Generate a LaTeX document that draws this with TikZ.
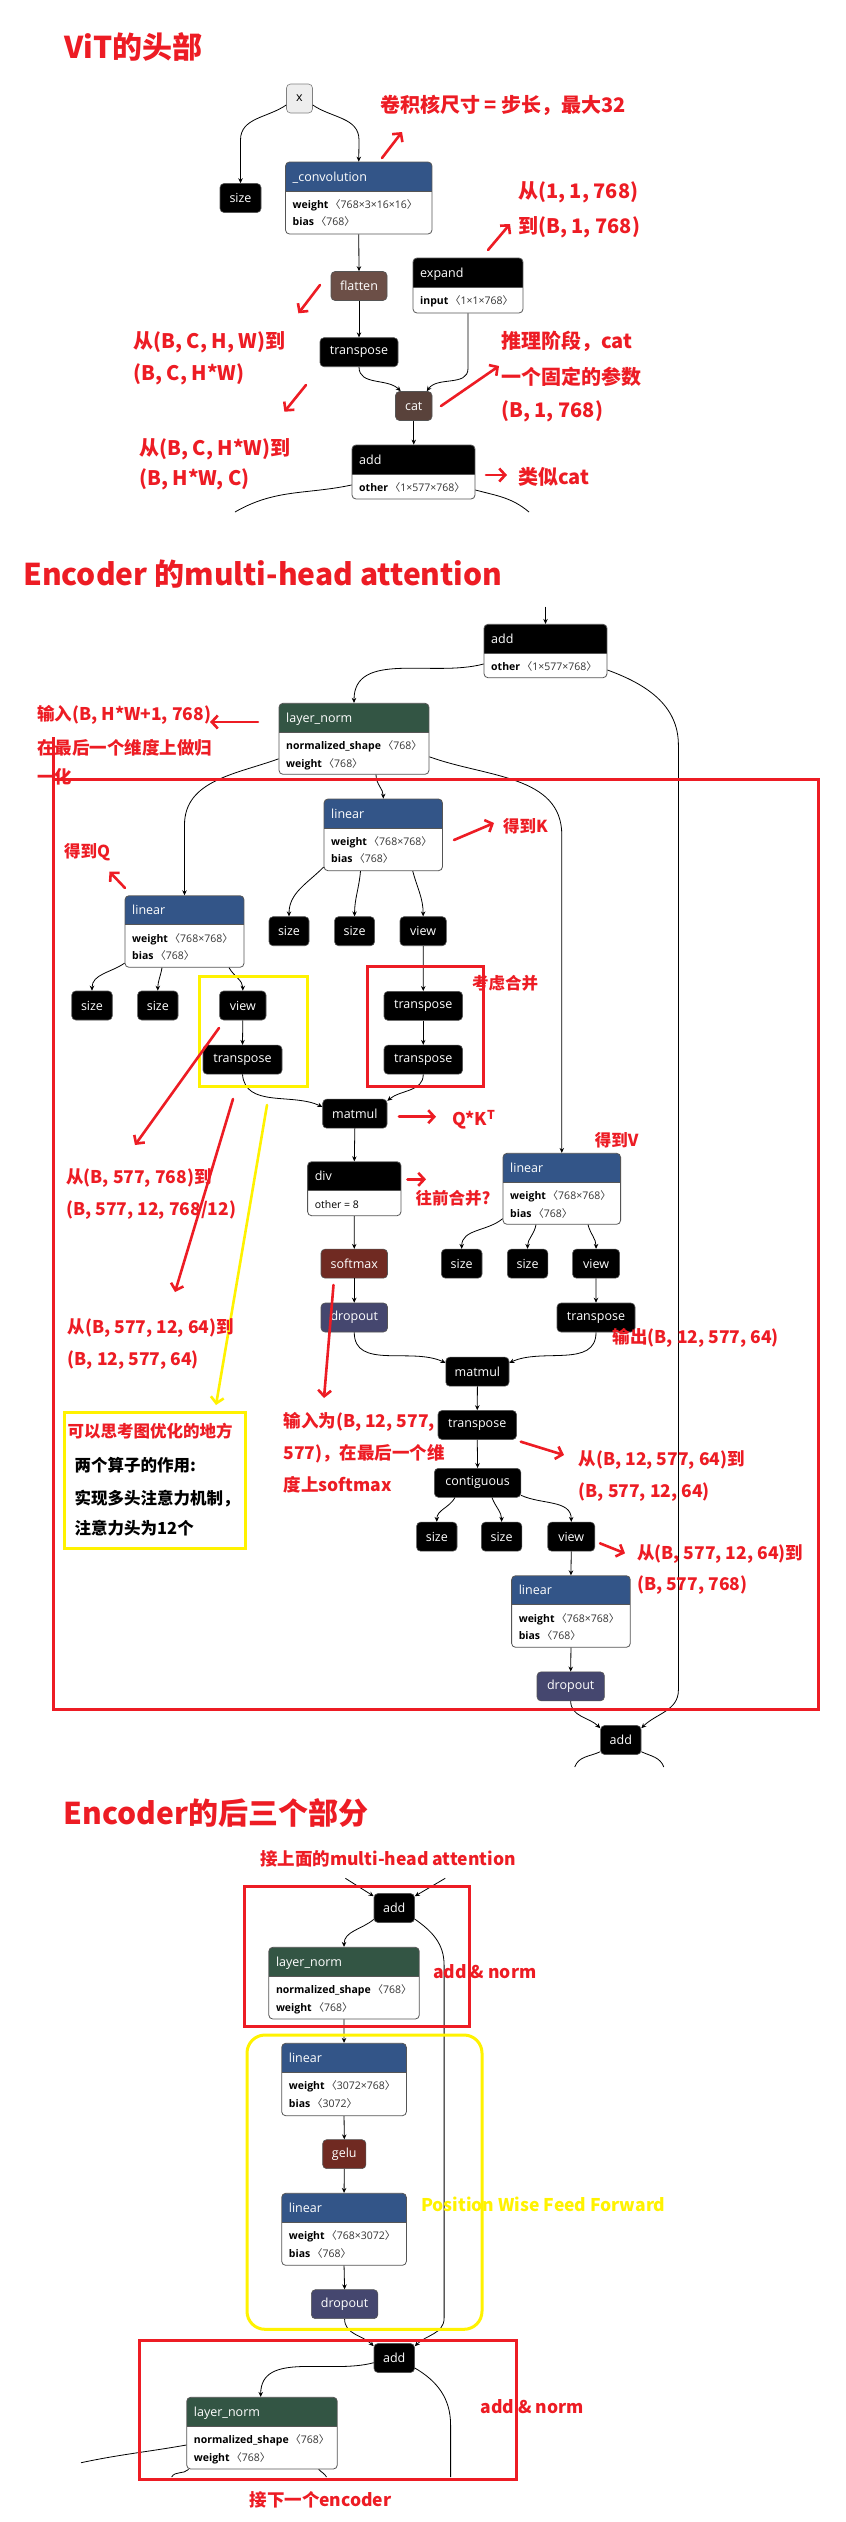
\documentclass[tikz,border=0pt]{standalone}
\usepackage{fontspec}
\usetikzlibrary{arrows.meta,fit}
\newfontfamily\cjk{Noto Sans CJK SC}
\newfontfamily\opsans{Open Sans}
\definecolor{annred}{HTML}{ED1C24}
\definecolor{annyel}{HTML}{FFF200}
\definecolor{layerblue}{HTML}{335588}
\definecolor{normgreen}{HTML}{335544}
\definecolor{actred}{HTML}{702A22}
\definecolor{dropcol}{HTML}{45476F}
\definecolor{shapecol}{HTML}{6C4F47}
\definecolor{tensorcol}{HTML}{59423B}
\definecolor{dimgray}{HTML}{333333}
\definecolor{framegray}{HTML}{555555}
\definecolor{inputgray}{HTML}{EEEEEE}
\newcommand{\fOp}{\opsans\fontsize{12.5}{14}\selectfont}
\newcommand{\fBody}{\opsans\fontsize{10.5}{12}\selectfont}
\newcommand{\fTitle}{\cjk\bfseries\fontsize{30}{34}\selectfont}
\newcommand{\fBig}{\cjk\bfseries\fontsize{20}{24}\selectfont}
\newcommand{\fMid}{\cjk\bfseries\fontsize{17.5}{21}\selectfont}
\newcommand{\fSmall}{\cjk\bfseries\fontsize{16.5}{20}\selectfont}
\newcommand{\dm}[1]{\,{\color{dimgray}{\cjk 〈}#1{\cjk 〉}}}
\newcommand{\opcard}[9]{%
  \begin{scope}
    \clip[rounded corners=4pt] (#2,#3) rectangle (#4,#5);
    \fill[white] (#2,#3) rectangle (#4,#5);
    \fill[#6] (#2,#3) rectangle ({#4},{#3+29});
  \end{scope}
  \draw[cardsep] (#2,{#3+29}) -- (#4,{#3+29});
  \node[cardframe, fit={(#2,#3) (#4,#5)}] (#1) {};
  \node[cardtitle] (#1-t) at ({#2+7},{#3+19}) {#7};
  \node[cardline] (#1-a) at ({#2+7},{#3+46.3}) {#8};
  \node[cardline] (#1-b) at ({#2+7},{#3+63.8}) {#9};
}
\tikzset{
  op/.style={rectangle, rounded corners=4pt, draw=framegray, line width=0.6pt, fill=black, text=white, font=\fOp, minimum height=29pt, inner sep=0pt},
  cardframe/.style={rectangle, rounded corners=4pt, draw=framegray, line width=0.8pt, inner sep=0pt},
  cardsep/.style={draw=framegray, line width=0.6pt},
  cardtitle/.style={anchor=base west, inner sep=0pt, text=white, font=\fOp},
  cardline/.style={anchor=base west, inner sep=0pt, text=black, font=\fBody},
  edge/.style={draw=black, line width=0.8pt, -{Stealth[length=5pt,width=4.5pt]}},
  plainedge/.style={draw=black, line width=0.8pt},
  ann/.style={anchor=west, inner sep=0pt, text=annred},
  annarrow/.style={draw=annred, line width=2.6pt, line cap=round, -{Straight Barb[length=6pt,width=13pt]}},
  yelarrow/.style={draw=annyel, line width=2.6pt, line cap=round, -{Straight Barb[length=6pt,width=13pt]}},
  redbox/.style={draw=annred, line width=3pt},
  yelbox/.style={draw=annyel, line width=3pt},
}
\begin{document}
\begin{tikzpicture}[x=1pt,y=-1pt]
\fill[white] (0,0) rectangle (846,2522);
\useasboundingbox (0,0) rectangle (846,2522);

%% ================= Section 1 =================
\node[op, fill=inputgray, draw=gray, text=black, minimum width=26pt] (xin) at (299.5,98.5) {x};
\node[op, minimum width=41pt] (size0) at (240.5,198) {size};
\opcard{conv}{285.5}{162}{432}{234}{layerblue}{\_convolution}{\textbf{weight}\dm{768×3×16×16}}{\textbf{bias}\dm{768}}
\opcard{expand}{413}{258}{523}{313}{black}{expand}{\textbf{input}\dm{1×1×768}}{}
\node[op, fill=shapecol, minimum width=56pt] (flatten) at (359,286) {flatten};
\node[op, minimum width=78pt] (tr0) at (359,352.2) {transpose};
\node[op, fill=tensorcol, minimum width=36.5pt] (cat) at (413.75,406) {cat};
\opcard{add1}{352}{445}{475}{499}{black}{add}{\textbf{other}\dm{1×577×768}}{}

\draw[edge] ([yshift=-6.5pt]xin.west) to[out=215,in=90] (240.5,140) -- (size0.north);
\draw[edge] ([yshift=-6.5pt]xin.east) to[out=-35,in=90] (359,140) -- (conv.north);
\draw[edge] (conv.south) -- (flatten.north);
\draw[edge] (flatten.south) -- (tr0.north);
\draw[edge] (tr0.south) to[out=270,in=135] ([xshift=-13pt]cat.north);
\draw[edge] (expand.south) -- ++(0,55) to[out=270,in=55] ([xshift=13pt]cat.north);
\draw[edge] (cat.south) -- (cat.south |- add1.north);
\coordinate (a1L) at (235,512);
\coordinate (a1R) at (529,512);
\draw[plainedge] ([yshift=-13pt]add1.west) to[out=192,in=30] (a1L);
\draw[plainedge] ([yshift=-18pt]add1.east) to[out=-15,in=140] (a1R);

%% ================= Section 2 =================
\coordinate (inE) at (545.5,606.7);
\opcard{addE}{484}{624.3}{607}{677.7}{black}{add}{\textbf{other}\dm{1×577×768}}{}
\opcard{ln1}{279}{703.3}{429}{774.3}{normgreen}{layer\_norm}{\textbf{normalized\_shape}\dm{768}}{\textbf{weight}\dm{768}}
\opcard{linK}{324}{799}{442.5}{870.7}{layerblue}{linear}{\textbf{weight}\dm{768×768}}{\textbf{bias}\dm{768}}
\opcard{linQ}{125}{895.7}{244}{967.3}{layerblue}{linear}{\textbf{weight}\dm{768×768}}{\textbf{bias}\dm{768}}
\node[op, minimum width=40pt] (sizeK1) at (289,931.2) {size};
\node[op, minimum width=40pt] (sizeK2) at (354.55,931.2) {size};
\node[op, minimum width=46.3pt] (viewK) at (423.15,931.2) {view};
\node[op, minimum width=40.5pt] (sizeQ1) at (92,1005.5) {size};
\node[op, minimum width=40.4pt] (sizeQ2) at (157.8,1005.5) {size};
\node[op, minimum width=46.4pt] (viewQ) at (242.8,1005.5) {view};
\node[op, minimum width=78.5pt] (trK1) at (423.25,1005.85) {transpose};
\node[op, minimum width=79pt] (trQ) at (242.5,1059.65) {transpose};
\node[op, minimum width=78.5pt] (trK2) at (423.25,1059.65) {transpose};
\node[op, minimum width=64.3pt] (mm1) at (354.85,1113.65) {matmul};
\opcard{div}{307.6}{1161.7}{401}{1215.7}{black}{div}{other = 8}{}
\opcard{linV}{503}{1153.3}{620.6}{1224.3}{layerblue}{linear}{\textbf{weight}\dm{768×768}}{\textbf{bias}\dm{768}}
\node[op, fill=actred, minimum width=66.5pt] (softmax) at (354.25,1263.65) {softmax};
\node[op, minimum width=40.6pt] (sizeV1) at (461.7,1263.65) {size};
\node[op, minimum width=40.5pt] (sizeV2) at (527.55,1263.65) {size};
\node[op, minimum width=47pt] (viewV) at (596.05,1263.65) {view};
\node[op, fill=dropcol, minimum width=66.5pt] (drop1) at (354.25,1317.5) {dropout};
\node[op, minimum width=78pt] (trV) at (596,1317.5) {transpose};
\node[op, minimum width=63.2pt] (mm2) at (477.4,1371.65) {matmul};
\node[op, minimum width=78.5pt] (tr3) at (477.25,1425) {transpose};
\node[op, minimum width=86.4pt] (contig) at (477.6,1482.8) {contiguous};
\node[op, minimum width=40.4pt] (sizeC1) at (436.8,1536.65) {size};
\node[op, minimum width=40.4pt] (sizeC2) at (501.6,1536.65) {size};
\node[op, minimum width=47pt] (viewC) at (571.25,1536.65) {view};
\opcard{linO}{511.6}{1575.7}{630.3}{1647.3}{layerblue}{linear}{\textbf{weight}\dm{768×768}}{\textbf{bias}\dm{768}}
\node[op, fill=dropcol, minimum width=67.4pt] (drop2) at (570.7,1686.35) {dropout};
\node[op, minimum width=40.4pt] (add2) at (620.8,1740) {add};

\draw[edge] (inE) -- (addE.north);
\draw[edge] ([yshift=-13pt]addE.west) to[out=195,in=90] (ln1.north);
\draw[edge] ([yshift=-19pt]addE.east) to[out=-20,in=90] (678.4,745) -- (678.4,1690) to[out=270,in=45] ([yshift=-3pt]add2.north east);
\draw[edge] ([yshift=-20pt]ln1.west) to[out=200,in=90] (184.5,825) -- (linQ.north);
\draw[edge] ([xshift=22pt]ln1.south) to[out=270,in=90] (linK.north);
\draw[edge] ([yshift=-18pt]ln1.east) to[out=-20,in=90] (561.8,835) -- (linV.north);
\draw[edge] ([yshift=4pt]linK.south west) to[out=225,in=90] (sizeK1.north);
\draw[edge] ([xshift=-22.75pt]linK.south) to[out=265,in=90] (sizeK2.north);
\draw[edge] ([xshift=29.5pt]linK.south) to[out=285,in=90] (viewK.north);
\draw[edge] ([yshift=4.6pt]linQ.south west) to[out=215,in=90] (sizeQ1.north);
\draw[edge] ([xshift=-22.5pt]linQ.south) to[out=260,in=90] (sizeQ2.north);
\draw[edge] ([xshift=44.5pt]linQ.south) to[out=300,in=90] (viewQ.north);
\draw[edge] (viewK.south) -- (trK1.north);
\draw[edge] (viewQ.south) -- (trQ.north);
\draw[edge] (trK1.south) -- (trK2.north);
\draw[edge] (trQ.south) to[out=275,in=155] ([yshift=-8pt]mm1.north west);
\draw[edge] (trK2.south) to[out=270,in=40] ([yshift=-2pt]mm1.north east);
\draw[edge] (mm1.south) -- (div.north);
\draw[edge] (div.south) -- (softmax.north);
\draw[edge] (softmax.south) -- (drop1.north);
\draw[edge] ([yshift=6pt]linV.south west) to[out=220,in=90] (sizeV1.north);
\draw[edge] ([xshift=-25.8pt]linV.south) to[out=260,in=90] (sizeV2.north);
\draw[edge] ([xshift=26.2pt]linV.south) to[out=285,in=90] (viewV.north);
\draw[edge] (viewV.south) -- (trV.north);
\draw[edge] (drop1.south) to[out=270,in=155] ([yshift=-6pt]mm2.north west);
\draw[edge] (trV.south) to[out=270,in=25] ([yshift=-6pt]mm2.north east);
\draw[edge] (mm2.south) -- (tr3.north);
\draw[edge] (tr3.south) -- (contig.north);
\draw[edge] ([xshift=-22.6pt]contig.south) to[out=240,in=90] (sizeC1.north);
\draw[edge] ([xshift=14.4pt]contig.south) to[out=290,in=90] (sizeC2.north);
\draw[edge] ([yshift=2.3pt]contig.south east) to[out=-25,in=90] (viewC.north);
\draw[edge] (viewC.south) -- (linO.north);
\draw[edge] (linO.south) -- (drop2.north);
\draw[edge] (drop2.south) to[out=270,in=135] ([yshift=-3pt]add2.north west);
\coordinate (a2L) at (574.7,1767);
\coordinate (a2R) at (663.8,1767);
\draw[plainedge] ([yshift=-11.7pt]add2.west) to[out=205,in=70] (a2L);
\draw[plainedge] ([yshift=-11.7pt]add2.east) to[out=-25,in=110] (a2R);

%% ================= Section 3 =================
\coordinate (in3L) at (345.4,1878.3);
\coordinate (in3R) at (445.2,1878.3);
\node[op, minimum width=40.5pt] (add3) at (394.25,1908) {add};
\opcard{ln2}{268.8}{1947.3}{419.3}{2019}{normgreen}{layer\_norm}{\textbf{normalized\_shape}\dm{768}}{\textbf{weight}\dm{768}}
\opcard{lin1}{281.7}{2043.3}{406.4}{2115.7}{layerblue}{linear}{\textbf{weight}\dm{3072×768}}{\textbf{bias}\dm{3072}}
\node[op, fill=actred, minimum width=43.2pt] (gelu) at (344.3,2154.15) {gelu};
\opcard{lin2}{281.7}{2193.3}{406.4}{2265.3}{layerblue}{linear}{\textbf{weight}\dm{768×3072}}{\textbf{bias}\dm{768}}
\node[op, fill=dropcol, minimum width=66.4pt] (drop3) at (344.6,2304.15) {dropout};
\node[op, minimum width=40.5pt] (add4) at (394.25,2358) {add};
\opcard{ln3}{186.7}{2397.3}{337.3}{2469}{normgreen}{layer\_norm}{\textbf{normalized\_shape}\dm{768}}{\textbf{weight}\dm{768}}

\draw[edge] (in3L) -- ([yshift=-3pt]add3.north west);
\draw[edge] (in3R) -- ([yshift=-3pt]add3.north east);
\draw[edge] ([yshift=3.4pt]add3.south west) to[out=220,in=90] (ln2.north);
\draw[edge] ([yshift=3.7pt]add3.south east) to[out=-35,in=90] (444.1,1965) -- (444.1,2318) to[out=270,in=45] ([yshift=-3pt]add4.north east);
\draw[edge] (ln2.south) -- (lin1.north);
\draw[edge] (lin1.south) -- (gelu.north);
\draw[edge] (gelu.south) -- (lin2.north);
\draw[edge] (lin2.south) -- (drop3.north);
\draw[edge] (drop3.south) to[out=270,in=135] ([yshift=-3pt]add4.north west);
\draw[edge] ([yshift=-4.7pt]add4.west) to[out=195,in=90] ([xshift=-1.3pt]ln3.north);
\coordinate (a4R) at (450.6,2477);
\coordinate (lnL) at (81,2462.7);
\coordinate (lnB1) at (171.6,2477);
\coordinate (lnB2) at (326.5,2477);
\draw[plainedge] ([yshift=-10pt]add4.east) to[out=-30,in=90] (450.6,2425) -- (a4R);
\draw[plainedge] ([yshift=-11.85pt]ln3.west) to[out=190,in=12] (lnL);
\draw[plainedge] ([xshift=2.3pt]ln3.south west) to[out=225,in=60] (lnB1);
\draw[plainedge] ([xshift=-19pt]ln3.south east) to[out=-45,in=120] (lnB2);

%% ================= Boxes =================
\draw[redbox] (53,737) -- (53,1709.3) -- (818,1709.3) -- (818,779) -- (53,779);
\draw[redbox] (367,966.7) rectangle (483,1086);
\draw[yelbox] (199.7,976) rectangle (307.6,1086.7);
\draw[yelbox] (64.8,1412.3) rectangle (245.5,1548.3);
\draw[redbox] (244,1886.7) rectangle (469.5,2026);
\draw[yelbox, rounded corners=18pt] (247,2035) rectangle (482,2329.3);
\draw[redbox] (139.2,2340) rectangle (516.5,2479);

%% ================= Annotation arrows =================
\draw[annarrow] (382,158) -- (402,132);
\draw[annarrow] (488,250) -- (510,224);
\draw[annarrow] (320,285) -- (298.4,313.3);
\draw[annarrow] (306,385) -- (284.4,411.7);
\draw[annarrow] (441,406) -- (499,366);
\draw[annarrow] (486,475) -- (507,475);
\draw[annarrow] (258,722) -- (210,722);
\draw[annarrow] (454,840) -- (494,823);
\draw[annarrow] (125,888) -- (109.5,871.7);
\draw[annarrow] (219,1028) -- (135,1145);
\draw[annarrow] (233,1099) -- (175,1292);
\draw[yelarrow] (267,1105) -- (216,1405);
\draw[annarrow] (399,1116.7) -- (436,1116.7);
\draw[annarrow] (407.5,1179.3) -- (426,1179.3);
\draw[annarrow] (333.5,1285) -- (324,1398);
\draw[annarrow] (520.8,1441.7) -- (564,1455);
\draw[annarrow] (600,1543.3) -- (625,1553.3);

%% ================= Texts =================
\node[ann, font=\fTitle] (title1) at (64,47) {ViT的头部};
\node[ann, font=\fBig] (t1) at (380,105) {卷积核尺寸 = 步长，最大32};
\node[ann, font=\fBig] (t2) at (518,192) {从(1, 1, 768)};
\node[ann, font=\fBig] (t3) at (518,227.5) {到(B, 1, 768)};
\node[ann, font=\fBig] (t4) at (133,342) {从(B, C, H, W)到};
\node[ann, font=\fBig] (t5) at (133,374) {(B, C, H*W)};
\node[ann, font=\fBig] (t6) at (501,341) {推理阶段，cat};
\node[ann, font=\fBig] (t7) at (501,376.7) {一个固定的参数};
\node[ann, font=\fBig] (t8) at (501,411.7) {(B, 1, 768)};
\node[ann, font=\fBig] (t9) at (139,449) {从(B, C, H*W)到};
\node[ann, font=\fBig] (t10) at (139,479) {(B, H*W, C)};
\node[ann, font=\fBig] (t11) at (518,476.7) {类似cat};

\node[ann, font=\fTitle] (title2) at (23,574) {Encoder 的multi-head attention};
\node[ann, font=\fMid] (t12) at (37,715) {输入(B, H*W+1, 768)};
\node[ann, font=\fMid] (t13) at (37,748.3) {在最后一个维度上做归};
\node[ann, font=\fMid] (t14) at (37,777) {一化};
\node[ann, font=\fSmall] (t15) at (503,826) {得到K};
\node[ann, font=\fSmall] (t16) at (64,852.5) {得到Q};
\node[ann, font=\fSmall] (t17) at (472,983.7) {考虑合并};
\node[ann, font=\fMid] (t18) at (452,1120) {Q*K\textsuperscript{T}};
\node[ann, font=\fMid] (t19) at (66,1178) {从(B, 577, 768)到};
\node[ann, font=\fMid] (t20) at (66,1210) {(B, 577, 12, 768/12)};
\node[ann, font=\fSmall] (t21) at (415.5,1198.3) {往前合并?};
\node[ann, font=\fSmall] (t22) at (594.7,1140) {得到V};
\node[ann, font=\fMid] (t23) at (67.5,1328.3) {从(B, 577, 12, 64)到};
\node[ann, font=\fMid] (t24) at (67.5,1360) {(B, 12, 577, 64)};
\node[ann, font=\fMid] (t25) at (612.5,1338) {输出(B, 12, 577, 64)};
\node[ann, font=\fMid] (t26) at (283.3,1421.7) {输入为(B, 12, 577,};
\node[ann, font=\fMid] (t27) at (283.3,1453.3) {577)，在最后一个维};
\node[ann, font=\fMid] (t28) at (283.3,1485) {度上softmax};
\node[ann, font=\fMid] (t29) at (578.5,1460) {从(B, 12, 577, 64)到};
\node[ann, font=\fMid] (t30) at (578.5,1491.7) {(B, 577, 12, 64)};
\node[ann, font=\fSmall] (t31) at (67.5,1430.7) {可以思考图优化的地方};
\node[ann, font=\fSmall, text=black] (t32) at (74.5,1465) {两个算子的作用:};
\node[ann, font=\fSmall, text=black] (t33) at (74.5,1499) {实现多头注意力机制，};
\node[ann, font=\fSmall, text=black] (t34) at (74.5,1528.3) {注意力头为12个};
\node[ann, font=\fMid] (t35) at (636.8,1554) {从(B, 577, 12, 64)到};
\node[ann, font=\fMid] (t36) at (636.8,1585) {(B, 577, 768)};

\node[ann, font=\fTitle] (title3) at (63.7,1812.5) {Encoder的后三个部分};
\node[ann, font=\fMid] (t37) at (260,1859) {接上面的multi-head attention};
\node[ann, font=\fMid] (t38) at (433,1971.7) {add \& norm};
\node[ann, font=\fMid, text=annyel] (t39) at (421,2204) {Position Wise Feed Forward};
\node[ann, font=\fMid] (t40) at (480.3,2406.7) {add \& norm};
\node[ann, font=\fMid] (t41) at (249.3,2500) {接下一个encoder};
\end{tikzpicture}
\end{document}
